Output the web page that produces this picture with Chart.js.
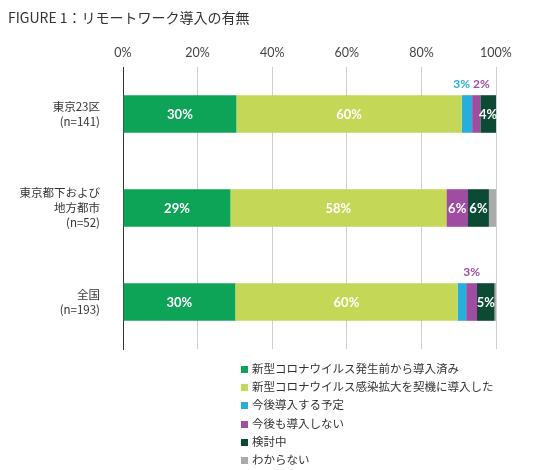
<!DOCTYPE html>
<html>
<head>
<meta charset="utf-8">
<script src="https://cdn.jsdelivr.net/npm/chart.js@4.4.1/dist/chart.umd.min.js"></script>
<style>
    body { margin: 0; background: #fff; }
    #wrap { position: relative; width: 550px; height: 470px; }
    #title {
        position: absolute; left: 8px; top: 7px;
        font: 14px "Noto Sans CJK JP", sans-serif; color: #333;
    }
    #legend {
        position: absolute; left: 241px; top: 359px;
        font: 11.5px "Noto Sans CJK JP", sans-serif; color: #333;
    }
    #legend div { height: 18.2px; line-height: 18.2px; white-space: nowrap; }
    #legend span {
        display: inline-block; width: 7px; height: 7px; margin-right: 4px;
        vertical-align: 0px;
    }
</style>
</head>
<body>
<div id="wrap">
    <canvas id="barChart" width="550" height="470"></canvas>
    <div id="title">FIGURE 1：リモートワーク導入の有無</div>
    <div id="legend"></div>
</div>
<script>
// categories (multi-line labels)
const regions = [
    ['東京23区', '(n=141)'],
    ['東京都下および', '地方都市', '(n=52)'],
    ['全国', '(n=193)']
];

const seriesNames = [
    '新型コロナウイルス発生前から導入済み',
    '新型コロナウイルス感染拡大を契機に導入した',
    '今後導入する予定',
    '今後も導入しない',
    '検討中',
    'わからない'
];

const seriesColors = ['#0ea458', '#c5d756', '#27aedb', '#a04ca0', '#0c4a34', '#aaaaaa'];

// values in %, one array per series, order = regions
const preCovid    = [30.4, 28.8, 30.1];
const duringCovid = [60.4, 57.9, 59.6];
const planned     = [2.8, 0, 2.3];
const notPlanned  = [2.2, 5.8, 2.9];
const considering = [4.2, 5.6, 4.7];
const unknown     = [0, 1.9, 0.4];

const seriesValues = [preCovid, duringCovid, planned, notPlanned, considering, unknown];

// labels printed on the bars (white, inside) and above them (coloured)
const insideLabels = [
    ['30%', '29%', '30%'],
    ['60%', '58%', '60%'],
    [null, null, null],
    [null, '6%', null],
    ['4%', '6%', '5%'],
    [null, null, null]
];
const aboveLabels = [
    [null, null, null],
    [null, null, null],
    ['3%', null, null],
    ['2%', null, '3%'],
    [null, null, null],
    [null, null, null]
];

const xTicks = [0, 20, 40, 60, 80, 100];

/////////////////////
// Helper function //
/////////////////////

// draws the percentage labels on and above the bars
const barLabels = {
    id: 'barLabels',
    afterDatasetsDraw(chart) {
        const ctx = chart.ctx;
        ctx.save();
        ctx.textAlign = 'center';
        ctx.textBaseline = 'middle';

        // inside labels
        ctx.font = 'bold 13px Lato, sans-serif';
        ctx.fillStyle = '#ffffff';
        chart.data.datasets.forEach((ds, i) => {
            chart.getDatasetMeta(i).data.forEach((bar, j) => {
                const txt = insideLabels[i][j];
                if (!txt) return;
                ctx.fillText(txt, (bar.base + bar.x) / 2, bar.y + 1);
            });
        });

        // above labels, spread apart when they collide
        ctx.font = 'bold 12px Lato, sans-serif';
        regions.forEach((r, j) => {
            const items = [];
            chart.data.datasets.forEach((ds, i) => {
                const txt = aboveLabels[i][j];
                if (!txt) return;
                const bar = chart.getDatasetMeta(i).data[j];
                items.push({
                    txt: txt,
                    color: seriesColors[i],
                    x: (bar.base + bar.x) / 2,
                    y: bar.y - bar.height / 2 - 11,
                    w: ctx.measureText(txt).width
                });
            });
            if (items.length > 1) {
                const gap = 3;
                const total = items.reduce((s, it) => s + it.w, 0) + gap * (items.length - 1);
                const mid = items.reduce((s, it) => s + it.x, 0) / items.length;
                let left = mid - total / 2;
                items.forEach(it => {
                    it.x = left + it.w / 2;
                    left += it.w + gap;
                });
            }
            items.forEach(it => {
                ctx.fillStyle = it.color;
                ctx.fillText(it.txt, it.x, it.y);
            });
        });
        ctx.restore();
    }
};

// legend as plain html list
const legend = document.getElementById('legend');
seriesNames.forEach((name, i) => {
    const row = document.createElement('div');
    row.innerHTML = '<span style="background:' + seriesColors[i] + '"></span>' + name;
    legend.appendChild(row);
});

const ctx = document.getElementById('barChart').getContext('2d');
const chartInstance = new Chart(ctx, {
    type: 'bar',
    data: {
        labels: regions,
        datasets: seriesNames.map((name, i) => ({
            label: name,
            data: seriesValues[i],
            backgroundColor: seriesColors[i],
            borderWidth: 0,
            barPercentage: 0.4,
            categoryPercentage: 1
        }))
    },
    options: {
        indexAxis: 'y',
        responsive: false,
        animation: false,
        layout: {
            padding: { left: 0, right: 54, top: 38, bottom: 121 }
        },
        plugins: {
            legend: { display: false },
            tooltip: { enabled: false },
            title: { display: false }
        },
        scales: {
            x: {
                position: 'top',
                stacked: true,
                min: 0,
                max: 100,
                afterBuildTicks: scale => {
                    scale.ticks = xTicks.map(v => ({ value: v }));
                },
                ticks: {
                    callback: v => v + '%',
                    color: '#444',
                    padding: 7,
                    font: { family: 'Lato, sans-serif', size: 12.5 }
                },
                grid: {
                    color: c => c.index === 0 ? '#333' : '#cfcfcf',
                    drawTicks: false
                },
                border: { display: false }
            },
            y: {
                stacked: true,
                afterFit: scale => { scale.width = 123; },
                ticks: {
                    color: '#333',
                    padding: 15,
                    font: { family: '"Noto Sans CJK JP", sans-serif', size: 11.5, lineHeight: 1.3 }
                },
                grid: { display: false },
                border: { color: '#333' }
            }
        }
    },
    plugins: [barLabels]
});
</script>
</body>
</html>
